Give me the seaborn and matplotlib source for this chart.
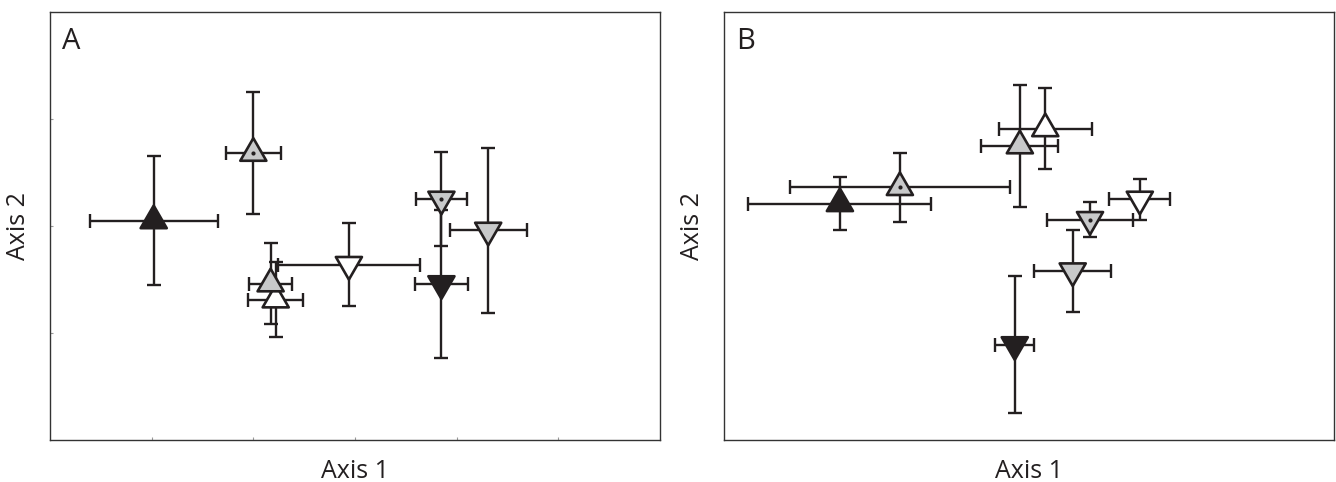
import numpy as np
import pandas as pd
import seaborn as sns
import matplotlib.pyplot as plt
from matplotlib.path import Path

sns.set_theme(style="white")
plt.rcParams['font.family'] = ['Open Sans', 'DejaVu Sans']

# groups (fill + direction of triangle, dot = centre dot)
groups = ["black_up", "gray_up_dot", "white_up", "gray_up",
          "white_down", "gray_down_dot", "black_down", "gray_down"]
fills = ["#231f20", "#c8c9ca", "#ffffff", "#c8c9ca",
         "#ffffff", "#c8c9ca", "#231f20", "#c8c9ca"]
has_dot = [False, True, False, False, False, True, False, False]

# panel A
a_x = [1.02, 2.00, 2.22, 2.17, 2.94, 3.85, 3.85, 4.31]
a_y = [2.05, 2.68, 1.31, 1.46, 1.64, 2.25, 1.46, 1.96]
a_xerr = [0.63, 0.27, 0.27, 0.21, 0.70, 0.25, 0.26, 0.38]
a_yerr = [0.60, 0.57, 0.35, 0.38, 0.39, 0.44, 0.69, 0.77]

# panel B
b_x = [1.14, 1.73, 3.16, 2.91, 4.09, 3.60, 2.86, 3.43]
b_y = [2.21, 2.36, 2.91, 2.75, 2.25, 2.06, 0.89, 1.58]
b_xerr = [0.90, 1.08, 0.46, 0.38, 0.30, 0.42, 0.19, 0.38]
b_yerr = [0.25, 0.32, 0.38, 0.57, 0.19, 0.16, 0.64, 0.38]

ink = "#231f20"

# triangles centred on their centroid
tri_up = Path([(0, 1), (-0.866, -0.5), (0.866, -0.5), (0, 1)],
              [Path.MOVETO, Path.LINETO, Path.LINETO, Path.CLOSEPOLY])
tri_down = Path([(0, -1), (-0.866, 0.5), (0.866, 0.5), (0, -1)],
                [Path.MOVETO, Path.LINETO, Path.LINETO, Path.CLOSEPOLY])
markers = {g: (tri_up if "_up" in g else tri_down) for g in groups}
palette = dict(zip(groups, fills))

fig = plt.figure(figsize=(13.36, 4.82), dpi=100)
axA = fig.add_axes([50 / 1336, 42 / 482, 610 / 1336, 428 / 482])
axB = fig.add_axes([724 / 1336, 42 / 482, 610 / 1336, 428 / 482])


def draw(ax, xs, ys, xerr, yerr, label):
    df = pd.DataFrame({"group": groups, "x": xs, "y": ys, "dot": has_dot})
    ax.errorbar(xs, ys, xerr=xerr, yerr=yerr, fmt="none", ecolor=ink,
                elinewidth=1.7, capsize=4.7, capthick=1.7, zorder=1)
    sns.scatterplot(data=df, x="x", y="y", hue="group", style="group",
                    palette=palette, markers=markers, s=470, edgecolor=ink,
                    linewidth=1.9, legend=False, ax=ax, zorder=2)
    sns.scatterplot(data=df[df["dot"]], x="x", y="y", color=ink, marker="o",
                    s=9, linewidth=0, legend=False, ax=ax, zorder=3)
    ax.set_xlim(0, 6)
    ax.set_ylim(0, 4)
    ax.set_xlabel("Axis 1", fontsize=18, labelpad=14, color=ink)
    ax.set_ylabel("Axis 2", fontsize=18, labelpad=14, color=ink)
    ax.text(0.02, 0.965, label, transform=ax.transAxes, fontsize=21,
            va="top", ha="left", color=ink)
    for sp in ax.spines.values():
        sp.set_color("#333333")
        sp.set_linewidth(1.0)


draw(axA, a_x, a_y, a_xerr, a_yerr, "A")
draw(axB, b_x, b_y, b_xerr, b_yerr, "B")

axA.set_xticks([1, 2, 3, 4, 5])
axA.set_yticks([1, 2, 3])
axA.tick_params(direction="in", length=2.5, width=0.8, color="#999999",
                labelbottom=False, labelleft=False, bottom=True, left=True)
axB.set_xticks([])
axB.set_yticks([])

plt.savefig("out.png", dpi=100)
